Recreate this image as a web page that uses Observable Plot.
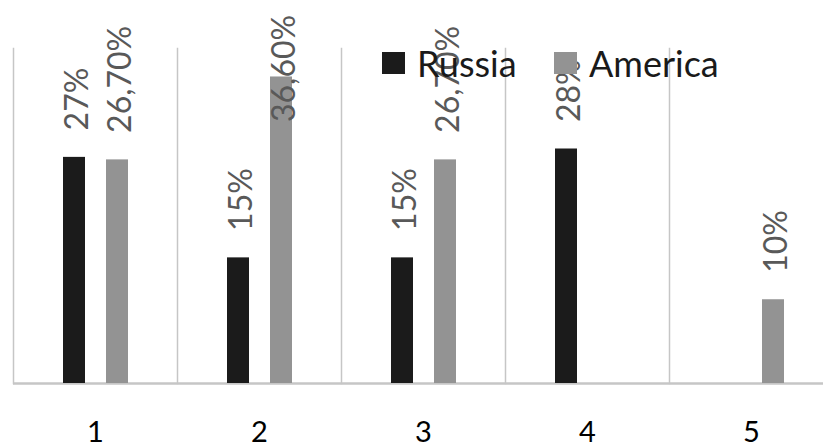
<!DOCTYPE html>
<html>
<head>
<meta charset="utf-8">
<script src="https://cdn.jsdelivr.net/npm/d3@7"></script>
<script src="https://cdn.jsdelivr.net/npm/@observablehq/plot@0.6"></script>
<style>
  html, body { margin: 0; padding: 0; background: #fff; overflow: hidden; }
  #wrap { position: relative; width: 823px; height: 447px; overflow: hidden; }
  .legend-item { position: absolute; display: flex; align-items: center; font-family: Lato, sans-serif; font-size: 36px; line-height: 1; color: #1a1a1a; white-space: nowrap; }
  .sw { display: inline-block; width: 23px; height: 22px; margin-right: 12px; }
</style>
</head>
<body>
<div id="wrap"></div>
<script>
const categories = ["1", "2", "3", "4", "5"];
const series = ["Russia", "America"];
const seriesColors = ["#1b1b1b", "#939393"];
const russia = [27, 15, 15, 28, null];
const america = [26.7, 36.6, 26.7, null, 10];
const russiaLabels = ["27%", "15%", "15%", "28%", ""];
const americaLabels = ["26,70%", "36,60%", "26,70%", "", "10%"];
const labelCap = 28; // labels of tall bars are held inside the chart area

const rows = [];
categories.forEach((c, i) => {
  if (russia[i] != null) rows.push({cat: c, series: "Russia", value: russia[i], label: russiaLabels[i]});
  if (america[i] != null) rows.push({cat: c, series: "America", value: america[i], label: americaLabels[i]});
});

const chart = Plot.plot({
  width: 833,
  height: 447,
  marginLeft: 13,
  marginRight: 0,
  marginTop: 48,
  marginBottom: 64,
  style: {fontFamily: "Lato, sans-serif", fontSize: "29px", color: "#000", background: "transparent", overflow: "visible", maxWidth: "none"},
  fx: {domain: categories, padding: 0, label: null, tickSize: 0, tickPadding: 38, axis: "bottom"},
  x: {domain: series, axis: null, paddingInner: 0.5, paddingOuter: 1.114},
  y: {domain: [0, 40], axis: null},
  color: {domain: series, range: seriesColors},
  marks: [
    Plot.frame({anchor: "left", stroke: "#c6c6c6", strokeWidth: 1.5}),
    Plot.ruleY([0], {stroke: "#c6c6c6", strokeWidth: 2.5}),
    Plot.barY(rows, {fx: "cat", x: "series", y: "value", fill: "series"}),
    Plot.text(rows, {
      fx: "cat", x: "series", y: d => Math.min(d.value, labelCap), text: "label",
      rotate: -90, textAnchor: "start", lineAnchor: "middle", dy: -27, dx: 3,
      fill: "#595959", fontSize: 32
    })
  ]
});
const wrap = document.getElementById("wrap");
wrap.appendChild(chart);

const legendPos = [382, 554];
series.forEach((s, i) => {
  const item = document.createElement("div");
  item.className = "legend-item";
  item.style.left = legendPos[i] + "px";
  item.style.top = "45px";
  const sw = document.createElement("span");
  sw.className = "sw";
  sw.style.background = seriesColors[i];
  const t = document.createElement("span");
  t.textContent = s;
  item.appendChild(sw);
  item.appendChild(t);
  wrap.appendChild(item);
});
</script>
</body>
</html>
